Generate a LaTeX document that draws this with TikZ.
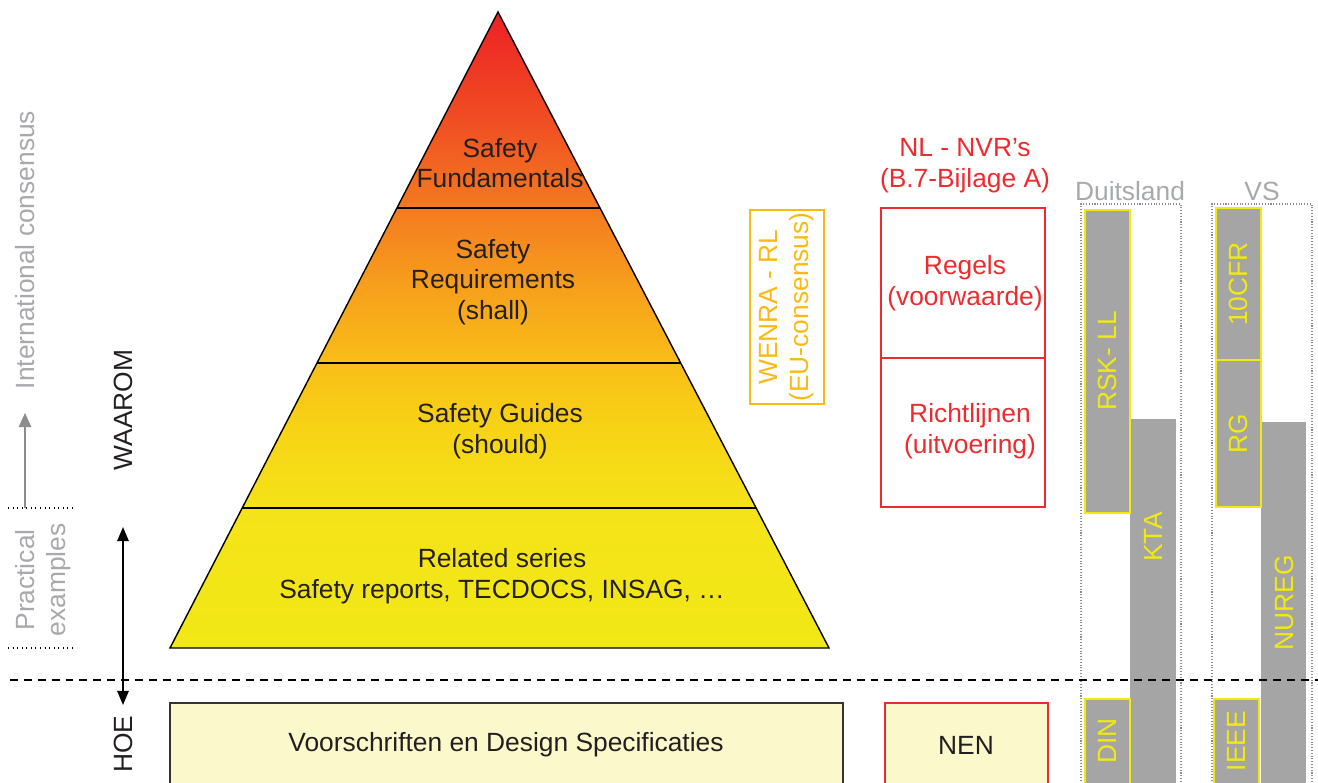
\documentclass[tikz,border=0pt]{standalone}
\usepackage{fontspec}
\setmainfont{Liberation Sans}
\usetikzlibrary{arrows.meta, positioning, calc, fit}

\definecolor{inkdark}{HTML}{231F20}
\definecolor{softgray}{HTML}{A7A9AC}
\definecolor{bargray}{HTML}{A5A5A5}
\definecolor{baryellow}{HTML}{F2EA0F}
\definecolor{nvrred}{HTML}{EE2A2E}
\definecolor{wenraorange}{HTML}{FDB913}
\definecolor{paleyellow}{HTML}{FBF8CC}
\definecolor{pyrA}{HTML}{F2E816}
\definecolor{pyrB}{HTML}{F4E318}
\definecolor{pyrC}{HTML}{F7D416}
\definecolor{pyrD}{HTML}{F9BE17}
\definecolor{pyrE}{HTML}{F7A11C}
\definecolor{pyrF}{HTML}{F47A20}
\definecolor{pyrG}{HTML}{F04E23}
\definecolor{pyrH}{HTML}{ED2024}
\pgfdeclareverticalshading{pyramid}{100bp}{color(0bp)=(pyrA); color(25bp)=(pyrA);
  color(36bp)=(pyrB); color(42bp)=(pyrC); color(47.4bp)=(pyrD); color(53.1bp)=(pyrE);
  color(59.6bp)=(pyrF); color(66.5bp)=(pyrG); color(75bp)=(pyrH); color(100bp)=(pyrH)}

\begin{document}
\begin{tikzpicture}[
            x=0.02cm, y=-0.02cm,
            every node/.style={font=\fontsize{15}{17.5}\selectfont, align=center, text=inkdark},
            pyrline/.style={draw=black, line width=0.8pt, line join=miter},
            bar/.style={draw=baryellow, fill=bargray, line width=1pt, inner sep=0pt},
            plainbar/.style={fill=bargray, inner sep=0pt},
            bartext/.style={rotate=90, text=baryellow},
            frame/.style={draw=black!45, densely dotted, line width=0.6pt, inner sep=0pt},
            redbox/.style={draw=nvrred, line width=0.8pt, inner sep=0pt},
            dotline/.style={dotted, line width=0.6pt},
            cutline/.style={dash pattern=on 4.5pt off 3.4pt, line width=1pt},
            grayarrow/.style={-{Triangle[length=8pt, width=7pt]}, draw=black!45, fill=black!45, line width=1.2pt},
            twoway/.style={{Triangle[length=8pt, width=6.5pt]}-{Triangle[length=8pt, width=6.5pt]}, line width=0.9pt}
        ]

            \useasboundingbox (0,0) rectangle (1318,783);
            \clip (0,0) rectangle (1318,783);

            \coordinate (apex) at (498,12);
            \coordinate (bl) at (170,648);
            \coordinate (br) at (829,648);
            \shade[shading=pyramid] (apex) -- (bl) -- (br) -- cycle;
            \foreach \t in {0.308, 0.552, 0.780}
                \draw[pyrline] ($(apex)!\t!(bl)$) -- ($(apex)!\t!(br)$);
            \draw[pyrline] (apex) -- (bl) -- (br) -- cycle;

            \node (fund) at (500,163) {Safety\\Fundamentals};
            \node (req) at (493,282) {Safety\\Requirements\\(shall)};
            \node (guide) at (500,431) {Safety Guides\\(should)};
            \node (rel) at (502,576) {Related series\\Safety reports, TECDOCS, INSAG, …};

            \node[rotate=90, text=softgray] (intl) at (25,250) {International consensus};
            \coordinate (up0) at (25,508);
            \coordinate (up1) at (25,413);
            \draw[grayarrow] (up0) -- (up1);
            \draw[dotline] (8,508) -- (73,508);
            \draw[dotline] (8,648) -- (73,648);
            \node[rotate=90, text=softgray] (prac) at (43,580) {Practical\\examples};
            \node[rotate=90] (why) at (123,410) {WAAROM};
            \node[rotate=90] (how) at (123,744) {HOE};

            \node[rotate=90, draw=wenraorange, text=wenraorange, line width=0.8pt, inner sep=0pt,
                  minimum width=3.88cm, minimum height=1.48cm] (wenra) at (787,307) {WENRA - RL\\(EU-consensus)};

            \node[text=nvrred] (nvr) at (965,166) {NL - NVR’s\\(B.7-Bijlage A)};
            \node[redbox, fit={(881,208) (1045,358)}] (regels) {};
            \node[redbox, fit={(881,358) (1045,507)}] (richt) {};
            \node[text=nvrred] (regelstxt) at (965,283) {Regels\\(voorwaarde)};
            \node[text=nvrred] (richttxt) at (970,431) {Richtlijnen\\(uitvoering)};

            \node[draw=black!80, fill=paleyellow, line width=0.8pt, inner sep=0pt, fit={(170,703) (843,800)}] (spec) {};
            \node (spectxt) at (506,745) {Voorschriften en Design Specificaties};
            \node[draw=nvrred, fill=paleyellow, line width=0.8pt, inner sep=0pt, fit={(885,703) (1048,800)}] (nen) {};
            \node (nentxt) at (966,745) {NEN};

            \node[text=softgray] (de) at (1130,191) {Duitsland};
            \node[frame, fit={(1081,204) (1181,800)}] (deframe) {};
            \node[plainbar, fit={(1130,419) (1176,800)}] (kta) {};
            \node[bar, fit={(1085,210) (1130,513)}] (rsk) {};
            \node[bar, fit={(1085,699) (1130,800)}] (din) {};
            \node[bartext] (rsktxt) at (1107,361) {RSK- LL};
            \node[bartext] (ktatxt) at (1153,537) {KTA};
            \node[bartext] (dintxt) at (1107,741) {DIN};

            \node[text=softgray] (vs) at (1262,191) {VS};
            \node[frame, fit={(1212,204) (1312,800)}] (vsframe) {};
            \node[plainbar, fit={(1261,422) (1306,800)}] (nureg) {};
            \node[bar, fit={(1216,208) (1261,360)}] (cfr) {};
            \node[bar, fit={(1216,360) (1261,507)}] (rg) {};
            \node[bar, fit={(1214,699) (1259,800)}] (ieee) {};
            \node[bartext] (cfrtxt) at (1238,284) {10CFR};
            \node[bartext] (rgtxt) at (1238,434) {RG};
            \node[bartext] (nuregtxt) at (1284,603) {NUREG};
            \node[bartext] (ieeetxt) at (1236,741) {IEEE};

            \draw[cutline] (10,680) -- (1318,680);

            \coordinate (w1) at (123,527);
            \coordinate (w2) at (123,705);
            \draw[twoway] (w1) -- (w2);

        \end{tikzpicture}
\end{document}
